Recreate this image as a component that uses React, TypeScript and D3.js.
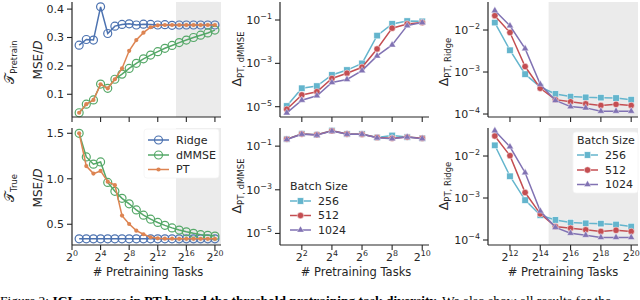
import React from "react";
import * as d3 from "d3";

// ---------- data ----------
const leftExps = [1, 2, 3, 4, 5, 6, 7, 8, 9, 10, 11, 12, 13, 14, 15, 16, 17, 18, 19, 20];
const ridgePretrain = [0.273, 0.293, 0.291, 0.408, 0.314, 0.34, 0.346, 0.348, 0.344, 0.347, 0.346, 0.344, 0.345, 0.343, 0.344, 0.344, 0.344, 0.344, 0.344, 0.344];
const dmmsePretrain = [0.035, 0.065, 0.08, 0.136, 0.121, 0.153, 0.171, 0.191, 0.209, 0.225, 0.238, 0.25, 0.262, 0.272, 0.282, 0.291, 0.3, 0.308, 0.316, 0.326];
const ptPretrain = [0.035, 0.065, 0.08, 0.135, 0.121, 0.153, 0.191, 0.253, 0.291, 0.317, 0.336, 0.343, 0.344, 0.344, 0.344, 0.344, 0.344, 0.344, 0.344, 0.344];
const ridgeTrue = [0.34, 0.34, 0.34, 0.34, 0.34, 0.34, 0.34, 0.34, 0.34, 0.34, 0.34, 0.34, 0.34, 0.34, 0.34, 0.34, 0.34, 0.34, 0.34, 0.34];
const dmmseTrue = [1.5, 1.24, 1.16, 1.185, 0.96, 0.862, 0.785, 0.725, 0.657, 0.6, 0.556, 0.52, 0.488, 0.46, 0.436, 0.417, 0.4, 0.386, 0.378, 0.37];
const ptTrue = [1.5, 1.14, 1.057, 1.086, 0.968, 0.93, 0.595, 0.503, 0.43, 0.39, 0.357, 0.345, 0.342, 0.341, 0.34, 0.34, 0.34, 0.34, 0.34, 0.34];

const midExps = [1, 2, 3, 4, 5, 6, 7, 8, 9, 10];
const dmmse256Top = [1.07e-5, 7.1e-5, 8.9e-5, 2.9e-4, 4.9e-4, 1.0e-3, 1.9e-2, 6.6e-2, 8.9e-2, 8.7e-2];
const dmmse512Top = [7.6e-6, 3.5e-5, 4.9e-5, 2.0e-4, 3.5e-4, 6.6e-4, 4.6e-3, 4.2e-2, 6.6e-2, 7.6e-2];
const dmmse1024Top = [5.2e-6, 2.0e-5, 3.2e-5, 1.3e-4, 1.8e-4, 4.6e-4, 2.2e-3, 7.1e-3, 5.5e-2, 7.6e-2];
const dmmse256Bot = [0.21, 0.37, 0.33, 0.52, 0.36, 0.36, 0.25, 0.31, 0.26, 0.23];
const dmmse512Bot = [0.21, 0.36, 0.33, 0.5, 0.36, 0.35, 0.25, 0.23, 0.26, 0.23];
const dmmse1024Bot = [0.2, 0.35, 0.32, 0.49, 0.35, 0.35, 0.24, 0.22, 0.26, 0.22];

const rightExps = [11, 12, 13, 14, 15, 16, 17, 18, 19, 20];
const ridge256Top = [1.5e-2, 3.3e-3, 8.9e-4, 4.4e-4, 3.0e-4, 2.6e-4, 2.5e-4, 2.45e-4, 2.4e-4, 2.2e-4];
const ridge512Top = [2.2e-2, 8.7e-3, 1.35e-3, 4.1e-4, 2.2e-4, 1.95e-4, 1.75e-4, 1.6e-4, 1.7e-4, 1.6e-4];
const ridge1024Top = [2.9e-2, 1.26e-2, 3.6e-3, 5.1e-4, 2.1e-4, 1.5e-4, 1.4e-4, 1.17e-4, 1.17e-4, 1.17e-4];
const ridge256Bot = [1.8e-2, 3.3e-3, 8.9e-4, 3.9e-4, 3.0e-4, 2.6e-4, 2.5e-4, 2.45e-4, 2.35e-4, 2.1e-4];
const ridge512Bot = [3.0e-2, 1.02e-2, 1.35e-3, 4.2e-4, 2.1e-4, 1.9e-4, 1.75e-4, 1.6e-4, 1.7e-4, 1.6e-4];
const ridge1024Bot = [4.0e-2, 1.66e-2, 4.0e-3, 4.9e-4, 2.0e-4, 1.45e-4, 1.3e-4, 1.15e-4, 1.15e-4, 1.15e-4];

const leftXTicks = [0, 4, 8, 12, 16, 20];
const midXTicks = [2, 4, 6, 8, 10];
const rightXTicks = [12, 14, 16, 18, 20];
const pretrainYTicks = [0.1, 0.2, 0.3, 0.4];
const trueYTicks = [0.5, 1.0, 1.5];
const midYTicksExp = [-1, -3, -5];
const rightYTicksExp = [-2, -3, -4];
const shadeStartExp = 14.55;

const methodNames = ["Ridge", "dMMSE", "PT"];
const batchNames = ["256", "512", "1024"];

// ---------- style ----------
const FONT = "DejaVu Sans, sans-serif";
const C = {
  blue: "#4c72b0",
  green: "#55a868",
  orange: "#dd8452",
  cyan: "#64b5cd",
  red: "#c44e52",
  purple: "#8172b3",
  axis: "#262626",
  shade: "#ebebeb",
};

type Marker = "open" | "dot" | "square" | "circle" | "triangle";

function MarkerGlyph({ m, color, x, y }: { m: Marker; color: string; x: number; y: number }) {
  if (m === "open") return <circle cx={x} cy={y} r={4} fill="none" stroke={color} strokeWidth={1.2} />;
  if (m === "dot") return <circle cx={x} cy={y} r={2.1} fill={color} />;
  if (m === "square") return <rect x={x - 3.2} y={y - 3.2} width={6.4} height={6.4} fill={color} stroke="#fff" strokeWidth={0.5} />;
  if (m === "circle") return <circle cx={x} cy={y} r={3.2} fill={color} stroke="#fff" strokeWidth={0.5} />;
  const p = d3.symbol(d3.symbolTriangle, 22)() || "";
  return <path d={p} transform={`translate(${x},${y})`} fill={color} stroke="#fff" strokeWidth={0.4} />;
}

type Series = { values: number[]; color: string; marker: Marker };

function Sup({ base, exp, size }: { base: string; exp: string; size: number }) {
  return (
    <>
      <tspan>{base}</tspan>
      <tspan dy={-size * 0.45} fontSize={size * 0.72}>{exp}</tspan>
    </>
  );
}

type PanelProps = {
  left: number; right: number; top: number; bottom: number;
  xDomain: [number, number];
  yDomain: [number, number];
  yLog: boolean;
  exps: number[];
  series: Series[];
  xTicks: number[];
  xLabels: boolean;
  yTicks: number[];
  yFmt: (v: number) => React.ReactNode;
  shadeFrom?: number;
};

function Panel(p: PanelProps) {
  const x = d3.scaleLinear().domain(p.xDomain).range([p.left, p.right]);
  const y = p.yLog
    ? d3.scaleLog().domain(p.yDomain).range([p.bottom, p.top])
    : d3.scaleLinear().domain(p.yDomain).range([p.bottom, p.top]);
  const fs = 11;
  return (
    <g>
      {p.shadeFrom !== undefined && (
        <rect x={x(p.shadeFrom)} y={p.top} width={p.right - x(p.shadeFrom)} height={p.bottom - p.top} fill={C.shade} />
      )}
      {p.series.map((s, i) => {
        const line = d3.line<number>().x((_, j) => x(p.exps[j])).y((v) => y(v));
        return (
          <g key={i}>
            <path d={line(s.values) || ""} fill="none" stroke={s.color} strokeWidth={1.5} />
            {s.values.map((v, j) => (
              <MarkerGlyph key={j} m={s.marker} color={s.color} x={x(p.exps[j])} y={y(v)} />
            ))}
          </g>
        );
      })}
      <line x1={p.left} x2={p.left} y1={p.top} y2={p.bottom} stroke={C.axis} strokeWidth={1.2} />
      <line x1={p.left} x2={p.right} y1={p.bottom} y2={p.bottom} stroke={C.axis} strokeWidth={1.2} />
      {p.xTicks.map((t) => (
        <g key={t}>
          <line x1={x(t)} x2={x(t)} y1={p.bottom} y2={p.bottom + 5} stroke={C.axis} strokeWidth={1.1} />
          {p.xLabels && (
            <text x={x(t)} y={p.bottom + 16} textAnchor="middle" fontSize={fs} fill={C.axis} fontFamily={FONT}>
              <Sup base="2" exp={String(t)} size={fs} />
            </text>
          )}
        </g>
      ))}
      {p.yTicks.map((t) => (
        <g key={t}>
          <line x1={p.left - 5} x2={p.left} y1={y(t)} y2={y(t)} stroke={C.axis} strokeWidth={1.1} />
          <text x={p.left - 8} y={y(t)} dy="0.36em" textAnchor="end" fontSize={fs} fill={C.axis} fontFamily={FONT}>
            {p.yFmt(t)}
          </text>
        </g>
      ))}
    </g>
  );
}

function RotLabel({ x, y, children }: { x: number; y: number; children: React.ReactNode }) {
  return (
    <text transform={`translate(${x},${y}) rotate(-90)`} textAnchor="middle" dy="0.35em" fontFamily={FONT} fill={C.axis} fontSize={12}>
      {children}
    </text>
  );
}

function Legend({ x, y, w, h, title, names, series, rowY, bg }: {
  x: number; y: number; w: number; h: number; title?: string; names: string[]; series: Series[]; rowY: number[]; bg: boolean;
}) {
  return (
    <g>
      {bg && <rect x={x} y={y} width={w} height={h} rx={3} fill="#fff" stroke="#f4f4f4" strokeWidth={0.8} />}
      {title && (
        <text x={x + 4} y={rowY[0] - 15} dy="0.35em" fontSize={11} fontFamily={FONT} fill={C.axis}>{title}</text>
      )}
      {names.map((n, i) => (
        <g key={n}>
          <line x1={x + 4} x2={x + 25} y1={rowY[i]} y2={rowY[i]} stroke={series[i].color} strokeWidth={1.5} />
          <MarkerGlyph m={series[i].marker} color={series[i].color} x={x + 14.5} y={rowY[i]} />
          <text x={x + 32} y={rowY[i]} dy="0.36em" fontSize={11} fontFamily={FONT} fill={C.axis}>{n}</text>
        </g>
      ))}
    </g>
  );
}

const logFmt = (v: number) => <Sup base="10" exp={"\u2212" + String(-Math.round(Math.log10(v)))} size={11} />;
const linFmt = (v: number) => v.toFixed(1);

export default function App() {
  const methodSeries = (r: number[], dm: number[], pt: number[]): Series[] => [
    { values: r, color: C.blue, marker: "open" },
    { values: dm, color: C.green, marker: "open" },
    { values: pt, color: C.orange, marker: "dot" },
  ];
  const batchSeries = (a: number[], b: number[], c: number[]): Series[] => [
    { values: a, color: C.cyan, marker: "square" },
    { values: b, color: C.red, marker: "circle" },
    { values: c, color: C.purple, marker: "triangle" },
  ];
  const midYTicks = midYTicksExp.map((e) => Math.pow(10, e));
  const rightYTicks = rightYTicksExp.map((e) => Math.pow(10, e));
  const leftX: [number, number] = [0, 20.85];
  const midX: [number, number] = [0.55, 10.45];
  const rightX: [number, number] = [10.55, 20.45];
  const T = { top: 2, bottom: 117 };
  const B = { top: 128, bottom: 245 };
  const L = { left: 72, right: 221 };
  const M = { left: 280, right: 429 };
  const R = { left: 488, right: 638 };
  const legM = batchSeries([], [], []);
  const legL = methodSeries([], [], []);

  return (
    <svg width={640} height={300} style={{ position: "absolute", left: 0, top: 0, background: "#fff" }} fontFamily={FONT}>
      <rect width={640} height={300} fill="#fff" />
      {/* left column */}
      <Panel {...L} {...T} xDomain={leftX} yDomain={[0.02, 0.425]} yLog={false} exps={leftExps}
        series={methodSeries(ridgePretrain, dmmsePretrain, ptPretrain)} xTicks={leftXTicks} xLabels={false}
        yTicks={pretrainYTicks} yFmt={linFmt} shadeFrom={shadeStartExp} />
      <Panel {...L} {...B} xDomain={leftX} yDomain={[0.272, 1.558]} yLog={false} exps={leftExps}
        series={methodSeries(ridgeTrue, dmmseTrue, ptTrue)} xTicks={leftXTicks} xLabels={true}
        yTicks={trueYTicks} yFmt={linFmt} shadeFrom={shadeStartExp} />
      <Legend x={144} y={129} w={75} h={49} names={methodNames} series={legL} rowY={[140, 155, 169.5]} bg={true} />
      <RotLabel x={38} y={60}><tspan>MSE/</tspan><tspan fontStyle="italic">D</tspan></RotLabel>
      <RotLabel x={38} y={188}><tspan>MSE/</tspan><tspan fontStyle="italic">D</tspan></RotLabel>
      <RotLabel x={10} y={62}><tspan fontSize={13}>{"\u{1D4AF}"}</tspan><tspan fontSize={8.5} dy={3}>Pretrain</tspan></RotLabel>
      <RotLabel x={10} y={188}><tspan fontSize={13}>{"\u{1D4AF}"}</tspan><tspan fontSize={8.5} dy={3}>True</tspan></RotLabel>
      <text x={148} y={276} textAnchor="middle" fontSize={11.5} fontFamily={FONT} fill={C.axis}># Pretraining Tasks</text>

      {/* middle column */}
      <Panel {...M} {...T} xDomain={midX} yDomain={[Math.pow(10, -5.476), Math.pow(10, -0.169)]} yLog={true} exps={midExps}
        series={batchSeries(dmmse256Top, dmmse512Top, dmmse1024Top)} xTicks={midXTicks} xLabels={false}
        yTicks={midYTicks} yFmt={logFmt} />
      <Panel {...M} {...B} xDomain={midX} yDomain={[Math.pow(10, -5.53), Math.pow(10, -0.169)]} yLog={true} exps={midExps}
        series={batchSeries(dmmse256Bot, dmmse512Bot, dmmse1024Bot)} xTicks={midXTicks} xLabels={true}
        yTicks={midYTicks} yFmt={logFmt} />
      <Legend x={286} y={176} w={70} h={62} title="Batch Size" names={batchNames} series={legM} rowY={[201, 215.5, 230]} bg={false} />
      <RotLabel x={237} y={59}><tspan fontSize={12.5}>Δ</tspan><tspan fontSize={8.5} dy={3}>PT, dMMSE</tspan></RotLabel>
      <RotLabel x={237} y={186}><tspan fontSize={12.5}>Δ</tspan><tspan fontSize={8.5} dy={3}>PT, dMMSE</tspan></RotLabel>
      <text x={356} y={276} textAnchor="middle" fontSize={11.5} fontFamily={FONT} fill={C.axis}># Pretraining Tasks</text>

      {/* right column */}
      <Panel {...R} {...T} xDomain={rightX} yDomain={[Math.pow(10, -4.071), Math.pow(10, -1.333)]} yLog={true} exps={rightExps}
        series={batchSeries(ridge256Top, ridge512Top, ridge1024Top)} xTicks={rightXTicks} xLabels={false}
        yTicks={rightYTicks} yFmt={logFmt} shadeFrom={shadeStartExp} />
      <Panel {...R} {...B} xDomain={rightX} yDomain={[Math.pow(10, -4.119), Math.pow(10, -1.333)]} yLog={true} exps={rightExps}
        series={batchSeries(ridge256Bot, ridge512Bot, ridge1024Bot)} xTicks={rightXTicks} xLabels={true}
        yTicks={rightYTicks} yFmt={logFmt} shadeFrom={shadeStartExp} />
      <Legend x={573} y={132} w={65} h={61} title="Batch Size" names={batchNames} series={legM} rowY={[155, 170, 184.5]} bg={true} />
      <RotLabel x={444} y={62}><tspan fontSize={12.5}>Δ</tspan><tspan fontSize={8.5} dy={3}>PT, Ridge</tspan></RotLabel>
      <RotLabel x={444} y={186}><tspan fontSize={12.5}>Δ</tspan><tspan fontSize={8.5} dy={3}>PT, Ridge</tspan></RotLabel>
      <text x={563} y={276} textAnchor="middle" fontSize={11.5} fontFamily={FONT} fill={C.axis}># Pretraining Tasks</text>

      {/* caption (cut by the frame, as in the reference) */}
      <text x={0} y={305} fontSize={13.5} fontFamily="Liberation Serif, serif" fill="#000">
        <tspan>Figure 2: </tspan>
        <tspan fontWeight="bold">ICL emerges in PT beyond the threshold pretraining task diversity.</tspan>
        <tspan> We also show all results for the</tspan>
      </text>
    </svg>
  );
}
